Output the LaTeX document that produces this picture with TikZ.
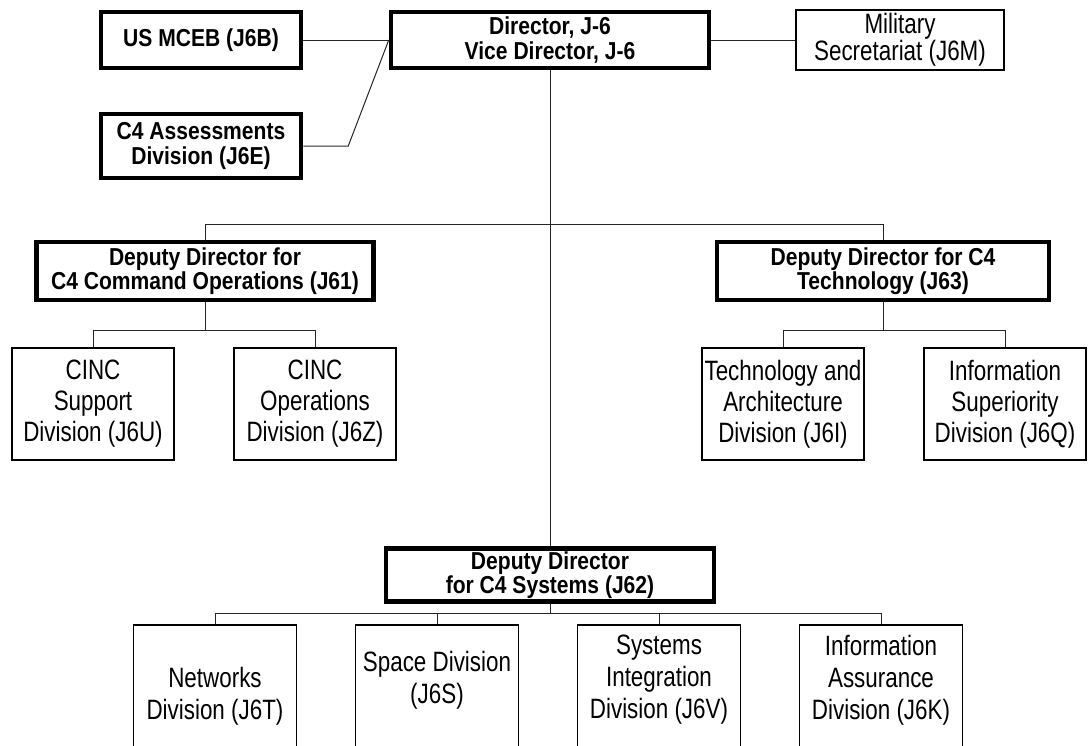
\documentclass[tikz,border=0pt]{standalone}
\usepackage{fontspec}
\setmainfont{Liberation Sans}[UprightFeatures={FakeStretch=0.80},BoldFeatures={FakeStretch=0.86}]

\begin{document}
\begin{tikzpicture}[x=1pt,y=-1pt,node distance=222pt]
\tikzstyle{bigbox}=[draw=black,line width=4.5pt,inner sep=0pt,align=center,font=\fontsize{24.5}{24.5}\selectfont\bfseries]
\tikzstyle{smallbox}=[draw=black,line width=1.8pt,inner sep=0pt,align=center,font=\fontsize{28}{31}\selectfont]
\tikzstyle{lowbox}=[smallbox,minimum width=163pt,minimum height=160pt,anchor=north]
\tikzstyle{lowtext}=[inner sep=0pt,align=center,font=\fontsize{28}{32}\selectfont]
\tikzstyle{link}=[draw=black!85,line width=1pt]
\useasboundingbox (0,0) rectangle (1091,745);
\clip (0,0) rectangle (1091,745);

% top row
\node[bigbox,minimum width=318pt,minimum height=56pt] (DIR) at (550,40) {Director, J-6\\Vice Director, J-6};
\node[bigbox,minimum width=200pt,minimum height=56pt] (MCEB) at (201,40) {US MCEB (J6B)};
\node[bigbox,minimum width=200pt,minimum height=64pt] (J6E) at (201,146) {C4 Assessments\\Division (J6E)};
\node[smallbox,minimum width=208pt,minimum height=60pt,font=\fontsize{28}{25}\selectfont] (J6M) at (900,40) {Military\\Secretariat (J6M)};

% deputy directors
\node[bigbox,minimum width=337pt,minimum height=58pt] (J61) at (205,271) {Deputy Director for\\C4 Command Operations (J61)};
\node[bigbox,minimum width=332pt,minimum height=58pt] (J63) at (883,271) {Deputy Director for C4\\Technology (J63)};
\node[bigbox,minimum width=328pt,minimum height=53pt] (J62) at (550,575) {Deputy Director\\for C4 Systems (J62)};

% divisions
\node[smallbox,minimum width=162pt,minimum height=112pt] (J6U) at (93,404) {CINC\\Support\\Division (J6U)};
\node[smallbox,minimum width=162pt,minimum height=112pt,right of=J6U] (J6Z) {CINC\\Operations\\Division (J6Z)};
\node[smallbox,minimum width=162pt,minimum height=112pt] (J6I) at (783,404) {Technology and\\Architecture\\Division (J6I)};
\node[smallbox,minimum width=162pt,minimum height=112pt,right of=J6I] (J6Q) {Information\\Superiority\\Division (J6Q)};

\node[lowbox] (J6T) at (215,624) {};
\node[lowbox,right of=J6T] (J6S) {};
\node[lowbox,right of=J6S] (J6V) {};
\node[lowbox,right of=J6V] (J6K) {};
\node[lowtext] (J6Ttxt) at ([yshift=-72pt]J6T.north) {Networks\\Division (J6T)};
\node[lowtext] (J6Stxt) at ([yshift=-56pt]J6S.north) {Space Division\\(J6S)};
\node[lowtext] (J6Vtxt) at ([yshift=-56pt]J6V.north) {Systems\\Integration\\Division (J6V)};
\node[lowtext] (J6Ktxt) at ([yshift=-56pt]J6K.north) {Information\\Assurance\\Division (J6K)};

% lines
\draw[link] (MCEB.east) -- (MCEB -| DIR.west);
\draw[link] (J6E.east) -- ++(45,0) -- (MCEB -| DIR.west);
\draw[link] (DIR.east |- J6M) -- (J6M.west);
\draw[link] (DIR) -- (J62);
\draw[link] (J61.north) -- ++(0,-15) -| (J63.north);
\draw[link] (J61.south) -- ++(0,28) coordinate (J61bar);
\draw[link] (J6U.north) |- (J61bar) -| (J6Z.north);
\draw[link] (J63.south) -- ++(0,28) coordinate (J63bar);
\draw[link] (J6I.north) |- (J63bar) -| (J6Q.north);
\draw[link] (J62.south) -- ++(0,10) coordinate (J62bar);
\draw[link] (J6T.north) |- (J62bar) -| (J6K.north);
\draw[link] (J6S.north) -- (J6S.north |- J62bar);
\draw[link] (J6V.north) -- (J6V.north |- J62bar);
\end{tikzpicture}
\end{document}
